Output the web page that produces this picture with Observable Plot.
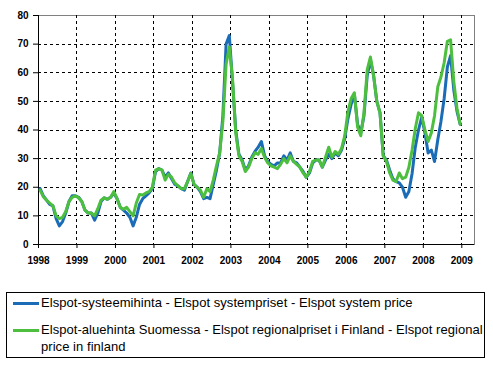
<!DOCTYPE html>
<html>
<head>
<meta charset="utf-8">
<script src="https://cdn.jsdelivr.net/npm/d3@7"></script>
<script src="https://cdn.jsdelivr.net/npm/@observablehq/plot@0.6"></script>
<style>
  html, body { margin: 0; padding: 0; background: #fff; }
  #wrap { position: relative; width: 493px; height: 366px; font-family: "Liberation Sans", Arial, sans-serif; }
  #chart svg { display: block; }
  .legend { position: absolute; left: 6px; top: 292px; width: 479px; height: 66px; border: 1px solid #000; box-sizing: border-box; font-size: 13px; letter-spacing: 0.05px; color: #000; }
  .item { position: absolute; left: 0; width: 100%; }
  .swatch { position: absolute; left: 6px; width: 26px; height: 3px; }
  .label { position: absolute; left: 34px; line-height: 16.7px; white-space: nowrap; }
</style>
</head>
<body>
<div id="wrap">
  <div id="chart"></div>
  <div class="legend" id="legend"></div>
</div>
<script>
// ---- data ----
const startYear = 1998;
const yearTicks = [1998, 1999, 2000, 2001, 2002, 2003, 2004, 2005, 2006, 2007, 2008, 2009];
const valueTicks = [0, 10, 20, 30, 40, 50, 60, 70, 80];
const seriesNames = [
  "Elspot-systeemihinta - Elspot systempriset - Elspot system price",
  "Elspot-aluehinta Suomessa - Elspot regionalpriset i Finland - Elspot regional price in finland"
];
const legendLines = [
  ["Elspot-systeemihinta - Elspot systempriset - Elspot system price"],
  ["Elspot-aluehinta Suomessa - Elspot regionalpriset i Finland - Elspot regional", "price in finland"]
];
const seriesColors = ["#1b6cb7", "#4dbf3e"];

// monthly values, Jan 1998 .. Dec 2008
const systemPrice = [
  19.5, 17, 15.5, 14, 13.5, 9, 6.5, 8, 11, 15, 17, 17,          // 1998
  16.5, 15, 12, 11, 11, 8.5, 11, 15, 16.3, 15.8, 16.5, 18,      // 1999
  16, 13, 12, 11, 9.5, 6.5, 9.5, 14, 16, 17, 18, 19.5,          // 2000
  25.5, 26.5, 26, 23.5, 25, 23, 21, 20.5, 19.5, 19, 22, 25,     // 2001
  21, 20, 18.5, 16, 16.5, 16, 21, 26, 32, 45, 70, 73,           // 2002
  57, 40, 31.5, 29.5, 26, 27.5, 30.5, 32.5, 34, 36, 31, 29,     // 2003
  28, 27.5, 28.5, 28.5, 31, 29.5, 32, 29, 28.5, 27, 25.5, 23.5, // 2004
  25, 28.5, 29.5, 29.5, 27, 29.5, 31.5, 30, 32, 31, 33, 37,     // 2005
  44, 49, 52.5, 42, 39, 45, 59, 64.5, 59, 50, 46, 31,           // 2006
  29.5, 26, 23, 22, 21.5, 20, 16.5, 18.5, 24.8, 34, 40, 44.5,   // 2007
  39, 32, 33, 29, 36.5, 43, 51, 62, 66, 54, 46.5, 42            // 2008
];
const finlandPrice = [
  19, 16.7, 15.5, 14.5, 13.5, 10, 9, 9.5, 11.5, 15, 16.5, 17,   // 1998
  16.3, 15, 12, 11, 11, 10, 12.5, 15.5, 16.3, 15.8, 16.5, 18.5, // 1999
  16, 13, 12.3, 13, 11.5, 10, 14.5, 17.5, 17.3, 18, 18.5, 20,   // 2000
  26, 26.5, 26, 22.5, 24.5, 23.5, 21.5, 20.5, 19.5, 19.5, 22, 24.8, // 2001
  21, 20, 19, 16.5, 19.5, 18.5, 22.5, 27.5, 32, 43, 63, 69,     // 2002
  58, 39, 31, 29, 25.5, 27, 30, 32, 31.5, 33.5, 30.5, 28.5,     // 2003
  27.5, 27, 26.5, 28, 30, 28.5, 31, 29, 28, 27, 25, 23.5,       // 2004
  25.5, 29, 29.5, 29.5, 27, 30.5, 34, 30.5, 32.5, 31.5, 33.5, 38, // 2005
  46.5, 51, 53, 41, 38, 46, 61, 65.5, 59, 50, 46, 31,           // 2006
  29, 25, 22.5, 22, 25, 23, 23.5, 27, 33, 40.5, 46, 45,         // 2007
  40, 36, 39, 45, 55, 58.5, 63.5, 71, 71.5, 57, 47.5, 42        // 2008
];

// ---- build table ----
const rows = [];
[systemPrice, finlandPrice].forEach((arr, s) => {
  arr.forEach((v, i) => rows.push({t: startYear + (i + 0.5) / 12, v, s}));
});
const xMax = 2009.33;
const gridValues = valueTicks.filter(v => v > 0 && v < 80);
const gridYears = yearTicks.filter(y => y > startYear);

const plot = Plot.plot({
  width: 493,
  height: 275,
  marginLeft: 38,
  marginRight: 19,
  marginTop: 15,
  marginBottom: 31,
  style: {fontFamily: "'Liberation Sans', Arial, sans-serif", fontSize: "10px", fontWeight: "bold", background: "#fff", color: "#000"},
  x: {domain: [startYear, xMax], axis: null, label: null},
  y: {domain: [0, 80], axis: null, label: null},
  marks: [
    Plot.frame({stroke: "#808080", fill: "none"}),
    Plot.ruleY(gridValues, {y: d => d, stroke: "black", strokeWidth: 1, strokeDasharray: "3 3", shapeRendering: "crispEdges"}),
    Plot.ruleX(gridYears, {x: d => d, stroke: "black", strokeWidth: 1, strokeDasharray: "3 3", shapeRendering: "crispEdges"}),
    Plot.ruleX([startYear], {stroke: "#000", shapeRendering: "crispEdges"}),
    Plot.ruleY([0], {stroke: "#000", shapeRendering: "crispEdges"}),
    Plot.axisX(yearTicks, {tickSize: 4, tickPadding: 8, tickFormat: d => String(d), fontWeight: "bold", fontSize: 10, stroke: "#000", label: null}),
    Plot.axisY(valueTicks, {tickSize: 5, tickPadding: 5, tickFormat: d => String(d), fontWeight: "bold", fontSize: 10, stroke: "#000", label: null}),
    Plot.line(rows.filter(d => d.s === 0), {x: "t", y: "v", stroke: seriesColors[0], strokeWidth: 3}),
    Plot.line(rows.filter(d => d.s === 1), {x: "t", y: "v", stroke: seriesColors[1], strokeWidth: 3})
  ]
});
document.getElementById("chart").appendChild(plot);

// ---- legend ----
const legend = document.getElementById("legend");
const tops = [10, 37];
legendLines.forEach((lines, i) => {
  const item = document.createElement("div");
  item.className = "item";
  item.style.top = (tops[i] - 8) + "px";
  const sw = document.createElement("div");
  sw.className = "swatch";
  sw.style.background = seriesColors[i];
  sw.style.top = "7px";
  const lab = document.createElement("div");
  lab.className = "label";
  lab.title = seriesNames[i];
  lab.innerHTML = lines.map(l => l.replace(/&/g, "&amp;")).join("<br>");
  item.appendChild(sw);
  item.appendChild(lab);
  legend.appendChild(item);
});
</script>
</body>
</html>
